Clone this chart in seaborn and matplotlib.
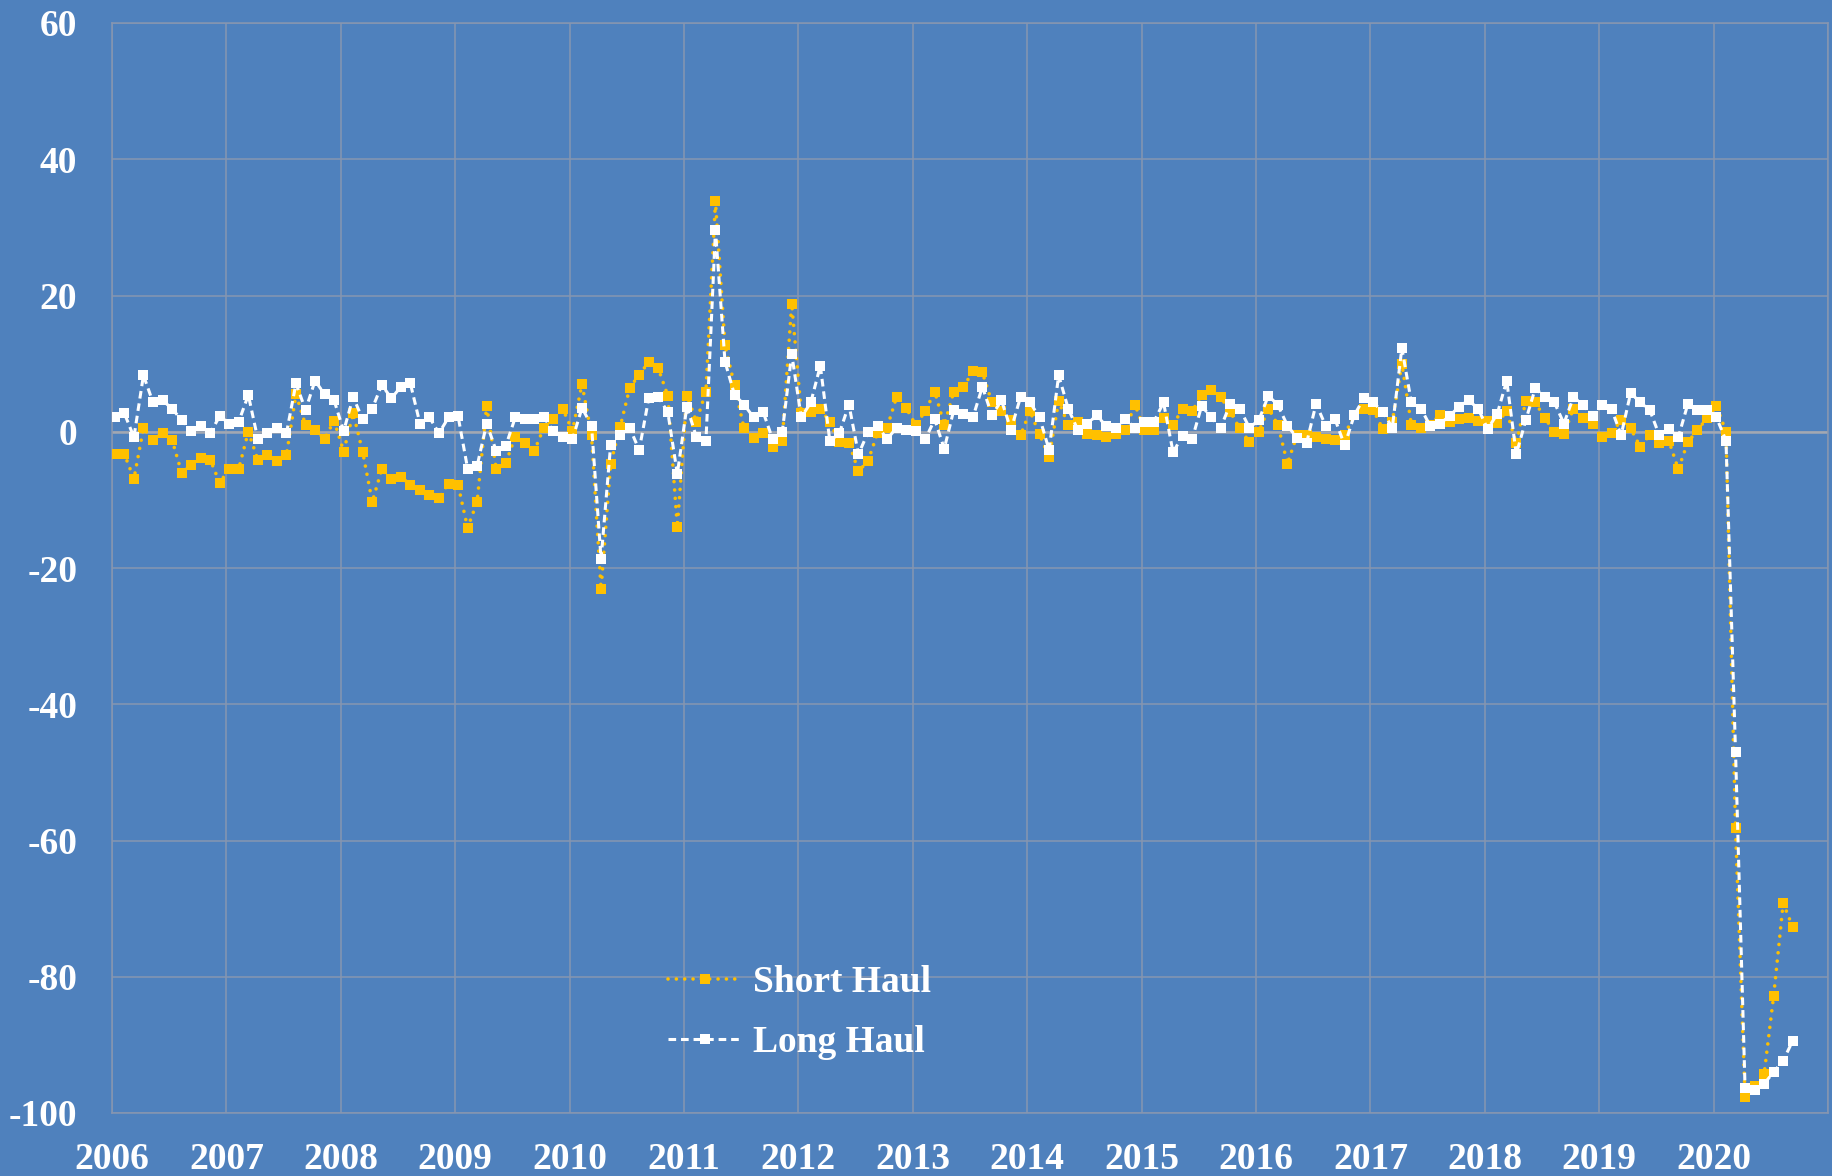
import pandas as pd
import seaborn as sns
import matplotlib
matplotlib.use('Agg')
import matplotlib.pyplot as plt

# monthly change vs same month a year before (%), Jan 2006 .. Sep 2020
short_haul = [
    -3.3, -3.3, -6.9, 0.5, -1.2, -0.2, -1.2, -6.0, -4.9, -3.8, -4.1, -7.5,   # 2006
    -5.4, -5.4, 0.0, -4.1, -3.4, -4.3, -3.4, 5.5, 1.0, 0.2, -1.0, 1.6,       # 2007
    -2.9, 2.7, -3.0, -10.3, -5.5, -6.9, -6.6, -7.8, -8.6, -9.3, -9.7, -7.6,  # 2008
    -7.8, -14.1, -10.3, 3.8, -5.4, -4.6, -0.7, -1.6, -2.8, 0.6, 1.9, 3.3,    # 2009
    0.1, 7.0, -0.5, -23.1, -4.7, 0.7, 6.4, 8.4, 10.2, 9.3, 5.3, -14.0,       # 2010
    5.3, 1.5, 5.9, 33.8, 12.7, 6.8, 0.5, -0.9, -0.2, -2.2, -1.4, 18.8,       # 2011
    2.8, 2.9, 3.4, 1.4, -1.5, -1.6, -5.8, -4.3, -0.2, 0.6, 5.1, 3.5,         # 2012
    1.0, 3.0, 5.9, 1.0, 5.9, 6.5, 8.9, 8.7, 4.3, 3.0, 1.7, -0.5,             # 2013
    3.0, -0.4, -3.7, 4.5, 1.0, 1.5, -0.3, -0.5, -0.8, -0.3, 0.3, 4.0,        # 2014
    0.3, 0.3, 2.0, 1.0, 3.4, 3.0, 5.4, 6.1, 5.1, 2.9, 0.5, -1.5,             # 2015
    0.0, 3.4, 1.0, -4.7, -0.5, -0.5, -0.8, -1.0, -1.2, -0.5, 2.5, 3.4,       # 2016
    3.2, 0.4, 1.5, 10.0, 1.0, 0.6, 1.0, 2.5, 1.5, 1.8, 2.0, 1.6,             # 2017
    1.6, 1.3, 3.0, -1.7, 4.5, 4.3, 2.0, 0.0, -0.3, 3.4, 2.0, 1.2,            # 2018
    -0.8, -0.2, 1.7, 0.5, -2.2, -0.5, -1.6, -1.3, -5.5, -1.5, 0.2, 2.0,      # 2019
    3.8, 0.0, -58.2, -97.6, -96.0, -94.3, -82.8, -69.2, -72.7,               # 2020
]
long_haul = [
    2.1, 2.7, -0.8, 8.3, 4.3, 4.6, 3.4, 1.7, 0.1, 0.9, -0.2, 2.3,            # 2006
    1.2, 1.5, 5.4, -1.1, -0.2, 0.6, -0.2, 7.1, 3.2, 7.5, 5.5, 4.6,           # 2007
    0.1, 5.1, 1.8, 3.4, 6.9, 4.9, 6.6, 7.1, 1.2, 2.1, -0.2, 2.1,             # 2008
    2.3, -5.4, -5.0, 1.2, -2.8, -2.1, 2.1, 1.8, 1.8, 2.1, 0.1, -0.8,         # 2009
    -1.1, 3.5, 0.9, -18.7, -2.0, -0.5, 0.6, -2.7, 4.9, 5.1, 2.9, -6.2,       # 2010
    3.7, -0.8, -1.4, 29.6, 10.3, 5.4, 4.0, 2.1, 2.9, -1.1, -0.1, 11.4,       # 2011
    2.1, 4.3, 9.7, -1.4, -0.2, 4.0, -3.3, -0.1, 0.9, -1.1, 0.6, 0.3,         # 2012
    0.1, -1.1, 1.8, -2.5, 3.2, 2.6, 2.1, 6.6, 2.4, 4.6, 0.3, 5.1,            # 2013
    4.3, 2.1, -2.7, 8.3, 3.4, 0.3, 1.2, 2.4, 0.8, 0.6, 1.8, 0.6,             # 2014
    1.5, 1.5, 4.3, -3.0, -0.6, -1.1, 3.8, 2.1, 0.6, 4.1, 3.4, 0.6,           # 2015
    1.7, 5.3, 3.9, 0.9, -0.9, -1.7, 4.1, 0.9, 1.8, -2.0, 2.4, 4.9,           # 2016
    4.3, 2.9, 0.6, 12.3, 4.3, 3.4, 0.8, 1.2, 2.3, 3.7, 4.6, 3.4,             # 2017
    0.4, 2.6, 7.5, -3.3, 1.7, 6.4, 5.1, 4.3, 1.2, 5.1, 4.0, 2.3,             # 2018
    4.0, 3.3, -0.5, 5.7, 4.3, 3.2, -0.5, 0.4, -0.8, 4.1, 3.2, 3.2,           # 2019
    2.1, -1.3, -47.0, -96.3, -96.6, -95.7, -94.0, -92.3, -89.4,              # 2020
]
years = list(range(2006, 2021))
y_ticks = list(range(-100, 61, 20))

months = pd.date_range('2006-01-01', periods=len(short_haul), freq='MS')
df = pd.DataFrame({
    'x': months.year + (months.month - 1 + 0.3) / 12,
    'Short Haul': short_haul,
    'Long Haul': long_haul,
})

bg = '#4F81BD'
grid_c = '#8796B0'

fig = plt.figure(figsize=(18.33, 11.76), dpi=100, facecolor=bg)
ax = fig.add_axes([112 / 1833, 1 - 1113 / 1176, 1716 / 1833, 1090 / 1176])
ax.set_facecolor(bg)

sns.lineplot(data=df, x='x', y='Short Haul', ax=ax, sort=False,
             color='#FFC000', lw=2.6, linestyle=(0, (0.01, 2.3)),
             dash_capstyle='round', marker='s', markersize=7.5,
             markeredgewidth=0, label='Short Haul', zorder=3)
sns.lineplot(data=df, x='x', y='Long Haul', ax=ax, sort=False,
             color='white', lw=2.2, linestyle=(0, (2.5, 1.6)),
             marker='s', markersize=6.5, markeredgewidth=0,
             label='Long Haul', zorder=4)

ax.set_xlim(2006, 2021)
ax.set_ylim(-100, 60)
ax.set_xticks(years + [2021])
ax.set_xticklabels([str(y) for y in years] + [''])
ax.set_yticks(y_ticks)
ax.set_yticklabels([str(v) for v in y_ticks])
ax.grid(True, color=grid_c, lw=1.1)
ax.axhline(0, color='#A3A8B2', lw=1.8, zorder=2)
ax.set_axisbelow(True)
for s in ax.spines.values():
    s.set_color(grid_c)
    s.set_linewidth(1.1)
ax.set_xlabel('')
ax.set_ylabel('')

for lab in ax.get_xticklabels() + ax.get_yticklabels():
    lab.set_fontfamily(['Liberation Serif', 'DejaVu Serif'])
    lab.set_fontweight('bold')
ax.tick_params(axis='both', colors='white', labelsize=27, length=0)
ax.tick_params(axis='y', pad=25)
ax.tick_params(axis='x', pad=21)

leg = ax.legend(loc='center left', bbox_to_anchor=(0.313, 0.092), frameon=False,
                handlelength=2.0, handletextpad=0.28, labelspacing=0.68,
                borderpad=0, prop={'family': 'Liberation Serif', 'weight': 'bold', 'size': 27})
for t in leg.get_texts():
    t.set_color('white')

fig.savefig('out.png', dpi=100, facecolor=bg)
